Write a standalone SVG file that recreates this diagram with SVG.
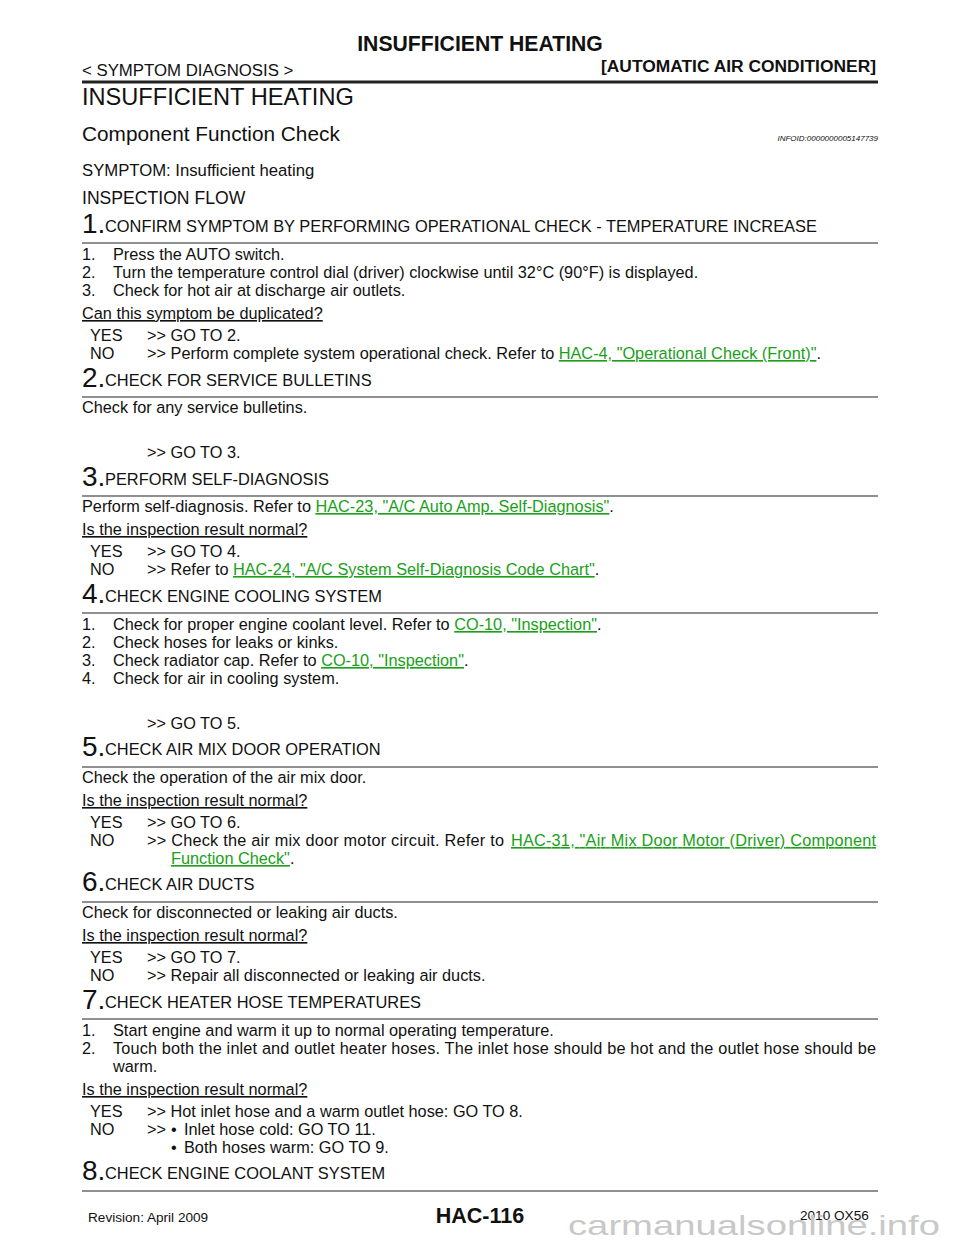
<svg xmlns="http://www.w3.org/2000/svg" width="960" height="1242" viewBox="0 0 960 1242">
<style>
text{font-family:"Liberation Sans",Arial,sans-serif;fill:#111}
.b{font-size:16.3px}
.h{font-size:16.4px}
.n{font-size:28px}
.l{fill:#1aa01a;text-decoration:underline}
.u{text-decoration:underline}
.r{stroke:#222;stroke-width:1.2}
</style>
<rect width="960" height="1242" fill="#fff"/>
<g id="header">
<text x="480" y="51" font-size="21.2" font-weight="bold" text-anchor="middle">INSUFFICIENT HEATING</text>
<text x="82" y="76" font-size="16.8">&lt; SYMPTOM DIAGNOSIS &gt;</text>
<text x="876" y="72" font-size="17.4" font-weight="bold" text-anchor="end">[AUTOMATIC AIR CONDITIONER]</text>
<line x1="82" y1="82" x2="878" y2="82" stroke="#222" stroke-width="3"/>
<text x="82" y="105" font-size="23.6">INSUFFICIENT HEATING</text>
<text x="82" y="141" font-size="20.8">Component Function Check</text>
<text x="878" y="141" font-size="8" font-style="italic" text-anchor="end">INFOID:0000000005147739</text>
<text x="82" y="176" font-size="16.7">SYMPTOM: Insufficient heating</text>
<text x="82" y="204" font-size="17.6">INSPECTION FLOW</text>
</g>
<g id="rules">
<line class="r" x1="82" y1="243" x2="878" y2="243"/>
<line class="r" x1="82" y1="397" x2="878" y2="397"/>
<line class="r" x1="82" y1="496" x2="878" y2="496"/>
<line class="r" x1="82" y1="613" x2="878" y2="613"/>
<line class="r" x1="82" y1="767" x2="878" y2="767"/>
<line class="r" x1="82" y1="902" x2="878" y2="902"/>
<line class="r" x1="82" y1="1019" x2="878" y2="1019"/>
<line class="r" x1="82" y1="1191" x2="878" y2="1191"/>
</g>
<g id="step1">
<text x="82" y="233" class="n">1.</text><text x="105" y="232" class="h">CONFIRM SYMPTOM BY PERFORMING OPERATIONAL CHECK - TEMPERATURE INCREASE</text>
<text x="82" y="260" class="b">1.</text><text x="113" y="260" class="b">Press the AUTO switch.</text>
<text x="82" y="278" class="b">2.</text><text x="113" y="278" class="b">Turn the temperature control dial (driver) clockwise until 32°C (90°F) is displayed.</text>
<text x="82" y="296" class="b">3.</text><text x="113" y="296" class="b">Check for hot air at discharge air outlets.</text>
<text x="82" y="319" class="b u">Can this symptom be duplicated?</text>
<text x="90" y="341" class="b">YES</text><text x="147" y="341" class="b">&gt;&gt; GO TO 2.</text>
<text x="90" y="359" class="b">NO</text><text x="147" y="359" class="b">&gt;&gt; Perform complete system operational check. Refer to <tspan class="l">HAC-4, "Operational Check (Front)"</tspan>.</text>
</g>
<g id="step2">
<text x="82" y="387" class="n">2.</text><text x="105" y="386" class="h">CHECK FOR SERVICE BULLETINS</text>
<text x="82" y="413" class="b">Check for any service bulletins.</text>
<text x="147" y="458" class="b">&gt;&gt; GO TO 3.</text>
</g>
<g id="step3">
<text x="82" y="486" class="n">3.</text><text x="105" y="485" class="h">PERFORM SELF-DIAGNOSIS</text>
<text x="82" y="512" class="b">Perform self-diagnosis. Refer to <tspan class="l">HAC-23, "A/C Auto Amp. Self-Diagnosis"</tspan>.</text>
<text x="82" y="535" class="b u">Is the inspection result normal?</text>
<text x="90" y="557" class="b">YES</text><text x="147" y="557" class="b">&gt;&gt; GO TO 4.</text>
<text x="90" y="575" class="b">NO</text><text x="147" y="575" class="b">&gt;&gt; Refer to <tspan class="l">HAC-24, "A/C System Self-Diagnosis Code Chart"</tspan>.</text>
</g>
<g id="step4">
<text x="82" y="603" class="n">4.</text><text x="105" y="602" class="h">CHECK ENGINE COOLING SYSTEM</text>
<text x="82" y="630" class="b">1.</text><text x="113" y="630" class="b">Check for proper engine coolant level. Refer to <tspan class="l">CO-10, "Inspection"</tspan>.</text>
<text x="82" y="648" class="b">2.</text><text x="113" y="648" class="b">Check hoses for leaks or kinks.</text>
<text x="82" y="666" class="b">3.</text><text x="113" y="666" class="b">Check radiator cap. Refer to <tspan class="l">CO-10, "Inspection"</tspan>.</text>
<text x="82" y="684" class="b">4.</text><text x="113" y="684" class="b">Check for air in cooling system.</text>
<text x="147" y="729" class="b">&gt;&gt; GO TO 5.</text>
</g>
<g id="step5">
<text x="82" y="756" class="n">5.</text><text x="105" y="755" class="h">CHECK AIR MIX DOOR OPERATION</text>
<text x="82" y="783" class="b">Check the operation of the air mix door.</text>
<text x="82" y="806" class="b u">Is the inspection result normal?</text>
<text x="90" y="828" class="b">YES</text><text x="147" y="828" class="b">&gt;&gt; GO TO 6.</text>
<text x="90" y="846" class="b">NO</text><text x="147" y="846" class="b" textLength="357" lengthAdjust="spacing">&gt;&gt; Check the air mix door motor circuit. Refer to</text>
<text x="511" y="846" class="b l" textLength="365" lengthAdjust="spacing">HAC-31, "Air Mix Door Motor (Driver) Component</text>
<text x="171" y="864" class="b"><tspan class="l">Function Check"</tspan>.</text>
</g>
<g id="step6">
<text x="82" y="891" class="n">6.</text><text x="105" y="890" class="h">CHECK AIR DUCTS</text>
<text x="82" y="918" class="b">Check for disconnected or leaking air ducts.</text>
<text x="82" y="941" class="b u">Is the inspection result normal?</text>
<text x="90" y="963" class="b">YES</text><text x="147" y="963" class="b">&gt;&gt; GO TO 7.</text>
<text x="90" y="981" class="b">NO</text><text x="147" y="981" class="b">&gt;&gt; Repair all disconnected or leaking air ducts.</text>
</g>
<g id="step7">
<text x="82" y="1009" class="n">7.</text><text x="105" y="1008" class="h">CHECK HEATER HOSE TEMPERATURES</text>
<text x="82" y="1036" class="b">1.</text><text x="113" y="1036" class="b">Start engine and warm it up to normal operating temperature.</text>
<text x="82" y="1054" class="b">2.</text><text x="113" y="1054" class="b" textLength="763" lengthAdjust="spacing">Touch both the inlet and outlet heater hoses. The inlet hose should be hot and the outlet hose should be</text>
<text x="113" y="1072" class="b">warm.</text>
<text x="82" y="1095" class="b u">Is the inspection result normal?</text>
<text x="90" y="1117" class="b">YES</text><text x="147" y="1117" class="b">&gt;&gt; Hot inlet hose and a warm outlet hose: GO TO 8.</text>
<text x="90" y="1135" class="b">NO</text><text x="147" y="1135" class="b">&gt;&gt;</text><text x="171" y="1135" class="b">•</text><text x="184" y="1135" class="b">Inlet hose cold: GO TO 11.</text>
<text x="171" y="1153" class="b">•</text><text x="184" y="1153" class="b">Both hoses warm: GO TO 9.</text>
</g>
<g id="step8">
<text x="82" y="1180" class="n">8.</text><text x="105" y="1179" class="h">CHECK ENGINE COOLANT SYSTEM</text>
</g>
<g id="footer">
<text x="88" y="1222" font-size="13.6">Revision: April 2009</text>
<text x="480" y="1223" font-size="21.5" font-weight="bold" text-anchor="middle">HAC-116</text>
<text x="800" y="1220" font-size="13.6">2010 QX56</text>
<text x="568" y="1235" font-size="28" textLength="372" lengthAdjust="spacingAndGlyphs" style="fill:#c8c8c8">carmanualsonline.info</text>
</g>
</svg>
